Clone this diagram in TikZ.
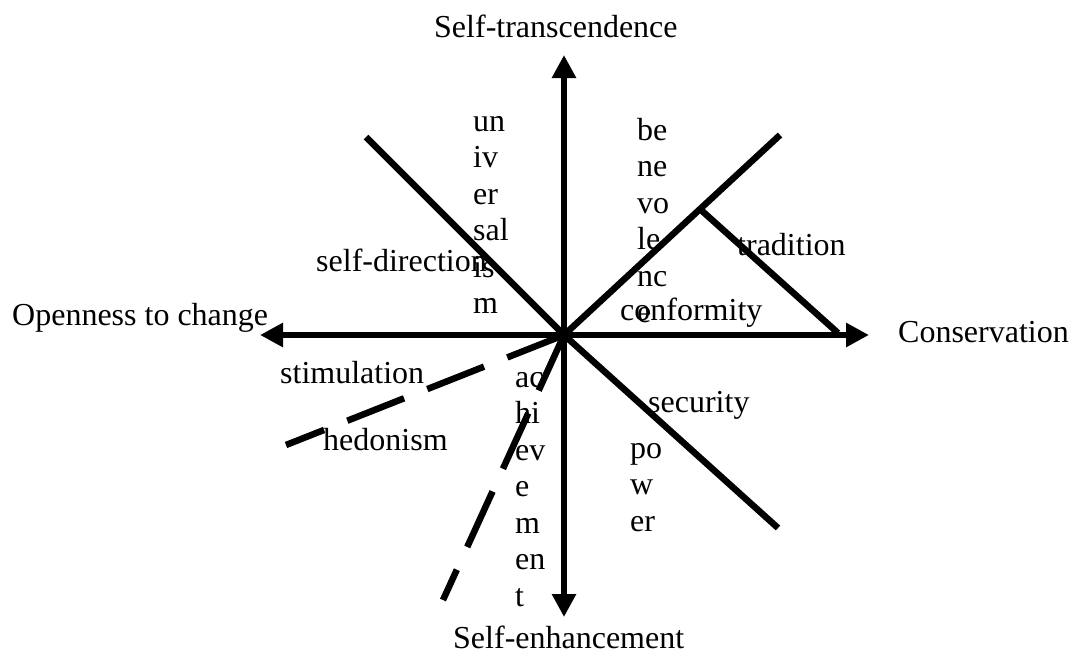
\documentclass[tikz,border=0pt]{standalone}
\usepackage{fontspec}
\setmainfont{Liberation Serif}
\usetikzlibrary{arrows.meta}
\begin{document}
\begin{tikzpicture}[x=1pt,y=-1pt,
  axisline/.style={line width=6.5pt,-{Triangle[width=23pt,length=23pt]}},
  barline/.style={line width=6.5pt},
  dashline/.style={line width=6.5pt,dash pattern=on 61pt off 25pt},
  lbl/.style={inner sep=0pt,anchor=base west,font=\fontsize{32}{36.5}\selectfont}]
\useasboundingbox (0,0) rectangle (1072,654);
% coordinates
\coordinate (c) at (564,335);
\coordinate (top) at (564,55);
\coordinate (bot) at (564,617);
\coordinate (lft) at (260,335);
\coordinate (rgt) at (869,335);
\coordinate (nw) at (366,137);
\coordinate (ne) at (780,135);
\coordinate (se) at (778,528);
\coordinate (tr1) at (701,210);
\coordinate (tr2) at (838,333);
\coordinate (hd) at (286,445);
\coordinate (ach) at (443,600);
% axes
\draw[axisline] (c) -- (top);
\draw[axisline] (c) -- (bot);
\draw[axisline] (c) -- (lft);
\draw[axisline] (c) -- (rgt);
% solid lines
\draw[barline] (nw) -- (c);
\draw[barline] (c) -- (ne);
\draw[barline] (c) -- (se);
\draw[barline] (tr1) -- (tr2);
% dashed lines
\draw[dashline] (c) -- (hd);
\draw[dashline] (c) -- (ach);
% axis labels
\node[lbl] (ltop) at (434,37) {Self-transcendence};
\node[lbl] (lleft) at (12,325) {Openness to change};
\node[lbl] (lright) at (898,342) {Conservation};
\node[lbl] (lbot) at (453,648) {Self-enhancement};
% value labels
\node[lbl] (selfdir) at (316,271) {self-direction};
\node[lbl] (univ) at (473,131) {\begin{tabular}[t]{@{}l@{}}un\\iv\\er\\sal\\is\\m\end{tabular}};
\node[lbl] (bene) at (637,140) {\begin{tabular}[t]{@{}l@{}}be\\ne\\vo\\le\\nc\\e\end{tabular}};
\node[lbl] (conf) at (620,320) {conformity};
\node[lbl] (trad) at (737,255) {tradition};
\node[lbl] (stim) at (280,383) {stimulation};
\node[lbl] (hedo) at (323,450) {hedonism};
\node[lbl] (achv) at (515,387) {\begin{tabular}[t]{@{}l@{}}ac\\hi\\ev\\e\\m\\en\\t\end{tabular}};
\node[lbl] (secu) at (648,412) {security};
\node[lbl] (powr) at (630,458) {\begin{tabular}[t]{@{}l@{}}po\\w\\er\end{tabular}};
\end{tikzpicture}
\end{document}
